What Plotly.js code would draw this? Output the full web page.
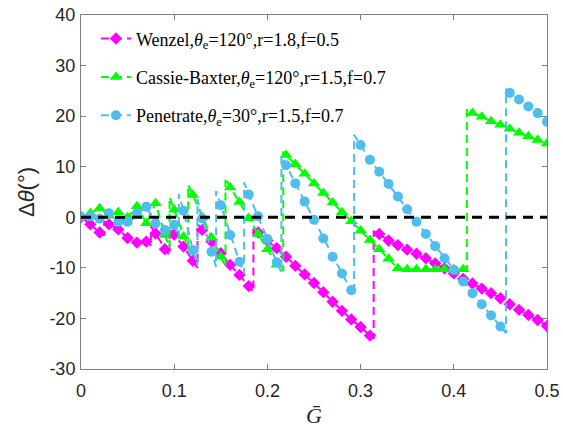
<!DOCTYPE html>
<html>
<head>
<meta charset="utf-8">
<script src="https://cdn.plot.ly/plotly-3.0.1.min.js"></script>
<style>html,body{margin:0;padding:0;background:#fff;}#chart{width:563px;height:433px;}</style>
</head>
<body>
<div id="chart"></div>
<script>
// ---- data ----
const G = [0.00,0.01,0.02,0.03,0.04,0.05,0.06,0.07,0.08,0.09,
           0.10,0.11,0.12,0.13,0.14,0.15,0.16,0.17,0.18,0.19,
           0.20,0.21,0.22,0.23,0.24,0.25,0.26,0.27,0.28,0.29,
           0.30,0.31,0.32,0.33,0.34,0.35,0.36,0.37,0.38,0.39,
           0.40,0.41,0.42,0.43,0.44,0.45,0.46,0.47,0.48,0.49,
           0.50];

const wenzel = [0, -1.4, -3.0, -1.4, -2.4, -4.1, -5.0, -4.8, -3.2, -6.3,
                -3.4, -5.8, -8.6, -2.5, -4.8, -7.1, -9.4, -11.4, -13.6, -3.0,
                -4.6, -6.1, -7.8, -9.6, -11.3, -13.0, -14.8, -16.7, -18.5, -20.2,
                -21.7, -23.4, -3.3, -4.6, -5.5, -6.4, -7.2, -8.1, -9.1, -10.1,
                -11.1, -12.2, -13.1, -14.1, -15.0, -16.0, -17.2, -18.3, -19.3, -20.3,
                -21.5];
// jumps: [G at jump, value before, value after]
const wenzelJumps = [[0.025,-3.6,-0.8],[0.075,-5.6,-1.8],[0.095,-7.6,-2.2],[0.125,-10.0,-1.3],[0.185,-14.8,-2.2],[0.314,-24.0,-2.8]];

const cassie = [0, 0.8, 1.8, 0.3, 1.0, 0.0, 2.2, -1.2, 2.8, -3.5,
                1.5, -3.8, 4.4, 0.0, -4.0, -7.8, 5.9, 3.0, -0.2, -3.3,
                -6.3, -9.4, 12.3, 10.5, 8.6, 6.7, 4.8, 2.9, 1.0, -0.8,
                -2.6, -4.5, -6.3, -8.2, -10.1, -10.3, -10.3, -10.3, -10.3, -10.3,
                -10.3, -10.3, 20.6, 19.9, 19.0, 18.3, 17.5, 16.7, 16.0, 15.3,
                14.6];
const cassieJumps = [[0.095,-6.0,4.0],[0.115,-6.0,6.5],[0.155,-9.8,7.8],[0.217,-10.6,13.0],[0.414,-10.3,21.2]];

const penetrate = [0.1, 0.2, -0.3, 0.8, -0.9, -0.9, 0.8, 2.1, -1.2, -2.5,
                   -1.5, 1.3, -6.5, -0.2, -6.8, 2.4, -3.5, -8.8, 4.5, 0.2,
                   -4.3, -8.9, 10.3, 6.7, 3.1, -0.5, -4.2, -7.8, -11.1, -14.4,
                   14.3, 11.4, 9.0, 6.6, 4.1, 1.6, -0.9, -3.3, -5.7, -8.1,
                   -10.4, -12.7, -15.0, -17.2, -19.4, -21.6, 24.6, 23.3, 21.9, 20.6,
                   18.9];
const penetrateJumps = [[0.105,-4.0,4.6],[0.125,-9.5,3.6],[0.145,-9.8,5.2],[0.175,-11.2,6.9],[0.215,-10.9,12.2],[0.293,-15.4,16.3],[0.456,-22.9,25.4]];

const names = ['Wenzel,<i>θ</i><sub>e</sub>=120°,r=1.8,f=0.5',
               'Cassie-Baxter,<i>θ</i><sub>e</sub>=120°,r=1.5,f=0.7',
               'Penetrate,<i>θ</i><sub>e</sub>=30°,r=1.5,f=0.7'];
const xTicks = [0, 0.1, 0.2, 0.3, 0.4, 0.5];
const yTicks = [-30, -20, -10, 0, 10, 20, 30, 40];

// ---- build traces ----
function buildSeries(xs, ys, jumps, color) {
  const pts = xs.map((x, i) => ({x: x, y: ys[i], m: true, o: 0}));
  jumps.forEach(j => {
    pts.push({x: j[0], y: j[1], m: false, o: 0});
    pts.push({x: j[0], y: j[2], m: false, o: 1});
  });
  pts.sort((a, b) => (a.x - b.x) || (a.o - b.o));
  return {
    x: pts.map(p => p.x),
    y: pts.map(p => p.y),
    colors: pts.map(p => p.m ? color : 'rgba(0,0,0,0)')
  };
}

const specs = [
  {ys: wenzel, jumps: wenzelJumps, color: '#FF00FF', symbol: 'diamond', size: 9.5},
  {ys: cassie, jumps: cassieJumps, color: '#00FF00', symbol: 'triangle-up', size: 11},
  {ys: penetrate, jumps: penetrateJumps, color: '#4DBEEE', symbol: 'circle', size: 10}
];

const traces = specs.map((s, k) => {
  const b = buildSeries(G, s.ys, s.jumps, s.color);
  return {
    x: b.x, y: b.y, type: 'scatter', mode: 'lines+markers', name: names[k],
    legendgroup: 'g' + k,
    line: {color: s.color, width: 2, dash: '8px,5px'},
    marker: {symbol: s.symbol, size: s.size, color: b.colors, line: {width: 0}}
  };
});

const axisCommon = {
  showline: true, linecolor: '#808080', linewidth: 1, mirror: 'ticks',
  ticks: 'inside', ticklen: 5, tickcolor: '#808080', tickwidth: 1,
  showgrid: false, zeroline: false,
  tickfont: {family: 'Liberation Sans, Arial, sans-serif', size: 18, color: '#262626'}
};

const layout = {
  width: 563, height: 433,
  margin: {l: 81, r: 16, t: 15, b: 64},
  paper_bgcolor: '#fff', plot_bgcolor: '#fff',
  showlegend: true,
  legend: {
    x: 0.032, y: 0.985, xanchor: 'left', yanchor: 'top',
    bgcolor: 'rgba(0,0,0,0)', traceorder: 'grouped', tracegroupgap: 12,
    font: {family: 'Liberation Serif, Times New Roman, serif', size: 18, color: '#000'}
  },
  xaxis: Object.assign({}, axisCommon, {
    range: [xTicks[0], xTicks[xTicks.length - 1]],
    tickvals: xTicks, ticktext: xTicks.map(String),
    ticklabelstandoff: 5,
    title: {text: '<i>Ḡ</i>', font: {family: 'Liberation Serif, Times New Roman, serif', size: 22, color: '#262626'}, standoff: 8}
  }),
  yaxis: Object.assign({}, axisCommon, {
    range: [yTicks[0], yTicks[yTicks.length - 1]],
    tickvals: yTicks, ticktext: yTicks.map(String),
    ticklabelstandoff: 1,
    title: {text: 'Δ<i>θ</i>(°)', font: {family: 'Liberation Sans, Arial, sans-serif', size: 22, color: '#262626'}, standoff: 8}
  }),
  shapes: [{
    type: 'line', xref: 'x', yref: 'y', layer: 'above',
    x0: G[0], x1: G[G.length - 1], y0: 0, y1: 0,
    line: {color: '#000', width: 3, dash: '10px,7px'}
  }]
};

Plotly.newPlot('chart', traces, layout, {displayModeBar: false, staticPlot: true});
</script>
</body>
</html>
